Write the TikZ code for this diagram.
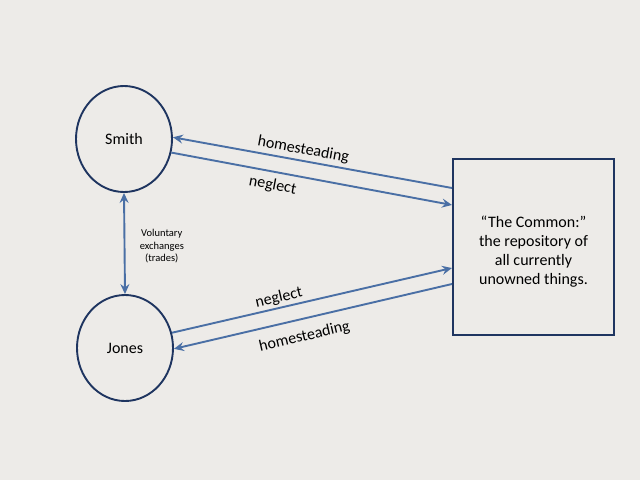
\documentclass[tikz,border=0pt]{standalone}
\usepackage{fontspec}
\setmainfont{Carlito}
\usetikzlibrary{shapes.geometric,arrows.meta}
\definecolor{bgc}{HTML}{EDEBE8}
\definecolor{navy}{HTML}{1F3560}
\definecolor{arrowc}{HTML}{4A6FA5}
\begin{document}
\begin{tikzpicture}[x=1pt,y=-1pt,
  person/.style={ellipse,draw=navy,line width=1.9pt,minimum width=96pt,minimum height=106pt,inner sep=0pt,font=\fontsize{16}{19}\selectfont},
  commonbox/.style={rectangle,draw=navy,line width=2pt,minimum width=161pt,minimum height=176pt,align=center,font=\fontsize{16}{19}\selectfont},
  conn/.style={draw=arrowc,line width=1.9pt,-{Stealth[length=10pt,width=9pt,inset=3.5pt]}},
  lbl/.style={font=\fontsize{16}{19}\selectfont,sloped,inner sep=1pt},
  small/.style={font=\fontsize{10.5}{12.5}\selectfont,align=center}]
\fill[bgc] (0,0) rectangle (640,480);
\useasboundingbox (0,0) rectangle (640,480);
\node[person] (smith) at (124,139) {Smith};
\node[person] (jones) at (125,348) {Jones};
\node[commonbox] (common) at (533.5,247) {\rule{0pt}{20pt}“The Common:”\\the repository of\\all currently\\unowned things.};
\draw[conn] ([yshift=59pt]common.west) -- node[lbl,pos=0.54,above,yshift=2pt] {homesteading} (smith.2);
\draw[conn] (smith.-16) -- node[lbl,pos=0.37,below,yshift=-5pt] {neglect} ([yshift=42pt]common.west);
\draw[conn] (jones.18) -- node[lbl,pos=0.39,above,yshift=1pt] {neglect} ([yshift=-21pt]common.west);
\draw[conn] ([yshift=-37pt]common.west) -- node[lbl,pos=0.545,below,yshift=-9pt] {homesteading} (jones.-1);
\draw[conn,{Stealth[length=10pt,width=9pt,inset=3.5pt]}-{Stealth[length=10pt,width=9pt,inset=3.5pt]}] (smith.south) -- node[small,midway,right,xshift=11pt,yshift=-3pt] {Voluntary\\exchanges\\(trades)} (jones.north);
\end{tikzpicture}
\end{document}
